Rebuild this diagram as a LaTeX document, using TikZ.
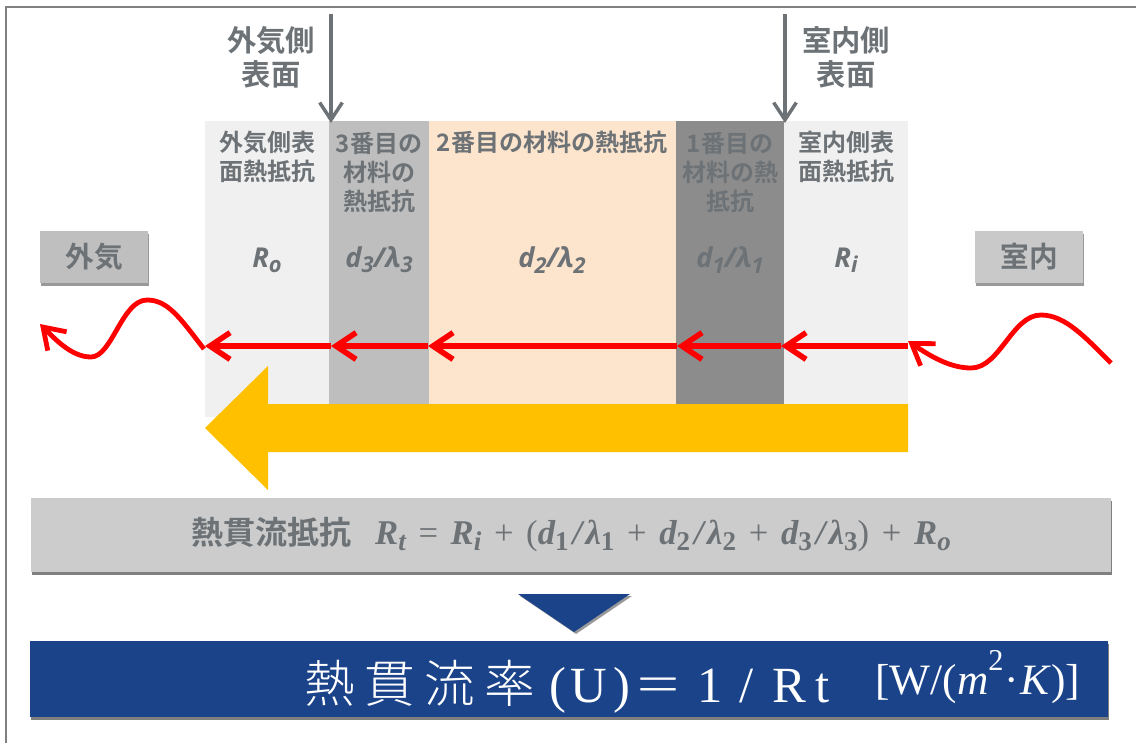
\documentclass[tikz,border=0pt]{standalone}
\usepackage{fontspec}
\usetikzlibrary{arrows.meta,shadows}
\setmainfont{Liberation Serif}
\newfontfamily\cjkbold{Noto Sans CJK JP Bold}
\newfontfamily\cjklight{Noto Sans CJK JP Light}
\newfontfamily\varfont{Open Sans}
\definecolor{txtgray}{HTML}{6D7276}
\definecolor{navy}{HTML}{1A4389}
\definecolor{sunny}{HTML}{FFC000}
\definecolor{peach}{HTML}{FDE4CC}
\newcommand{\vr}[2]{{\varfont\bfseries\itshape #1\raisebox{-0.35ex}{\scalebox{.8}{#2}}}}
\newcommand{\sbs}[1]{\raisebox{-0.35ex}{\scalebox{.78}{#1}}}
\newcommand{\opr}[1]{\hspace{9.5pt}{\mdseries\upshape #1}\hspace{9.5pt}}
\newcommand{\slsh}{\hspace{3pt}/\hspace{2.5pt}}
\tikzset{
  colbox/.style={inner sep=0, minimum height=222pt},
  lbl/.style={text=txtgray, align=center, inner sep=0, font=\cjkbold\fontsize{18}{21.75}\selectfont},
  headlbl/.style={text=txtgray, align=center, inner sep=0, font=\cjkbold\fontsize{22}{25.5}\selectfont},
  varlbl/.style={text=txtgray, inner sep=0, font=\fontsize{20.5}{24}\selectfont},
  airbox/.style={fill=#1, text=txtgray, inner sep=0, minimum width=81pt, minimum height=39pt,
    font=\cjkbold\fontsize{21.5}{25}\selectfont,
    drop shadow={shadow xshift=1pt, shadow yshift=-2pt, opacity=.4, fill=black}},
  wide/.style={inner sep=0, drop shadow={shadow xshift=1pt, shadow yshift=-2pt, opacity=.5, fill=black}},
  grayarrow/.style={draw=txtgray, line width=2.6pt, -{Straight Barb[length=13pt,width=17pt,line width=2.6pt]}},
  heatarrow/.style={draw=red, line width=4.4pt, -{Straight Barb[length=15pt,width=20pt,line width=4.2pt]}},
  wavearrow/.style={draw=red, line width=3.6pt, -{Straight Barb[length=15pt,width=20pt,line width=3.6pt]}}
}
\begin{document}
\begin{tikzpicture}[x=0.75pt, y=-0.75pt]
\useasboundingbox (0,0) rectangle (1136,743);
\coordinate (fa) at (6,743);
\coordinate (fb) at (6,7);
\coordinate (fc) at (1136,7);
\draw[draw=gray, line width=1.1pt] (fa) -- (fb) -- (fc);
\node[colbox, fill=black!6, minimum width=93pt] (col1) at (267,269){};
\node[colbox, fill=black!25.5, minimum width=75pt] (col2) at (379,269){};
\node[colbox, fill=peach, minimum width=185.25pt] (col3) at (552.5,269){};
\node[colbox, fill=black!45, minimum width=81pt] (col4) at (730,269){};
\node[colbox, fill=black!6, minimum width=93pt] (col5) at (846,269){};
\node[lbl] (t1) at (267,157){外気側表\\面熱抵抗};
\node[lbl] (t2) at (379,172){3番目の\\材料の\\熱抵抗};
\node[lbl] (t3) at (552,142){2番目の材料の熱抵抗};
\node[lbl] (t4) at (730,172){1番目の\\材料の熱\\抵抗};
\node[lbl] (t5) at (846,157){室内側表\\面熱抵抗};
\node[varlbl] (v1) at (267,260){\vr{R}{o}};
\node[varlbl] (v2) at (379,260){\vr{d}{3}\vr{/λ}{3}};
\node[varlbl] (v3) at (552,260){\vr{d}{2}\vr{/λ}{2}};
\node[varlbl] (v4) at (730,260){\vr{d}{1}\vr{/λ}{1}};
\node[varlbl] (v5) at (846,260){\vr{R}{i}};
\node[headlbl] (hout) at (271,57){外気側\\表面};
\node[headlbl] (hin) at (846,57){室内側\\表面};
\coordinate (gout) at (331,14);
\coordinate (gouttip) at (331,123);
\coordinate (gin) at (785,14);
\coordinate (gintip) at (785,123);
\draw[grayarrow] (gout) -- (gouttip);
\draw[grayarrow] (gin) -- (gintip);
\node[airbox=black!25] (airout) at (94,257){外気};
\node[airbox=black!21] (airin) at (1029,257){室内};
\fill[sunny] (908,404) -- (268,404) -- (268,366) -- (205,428) -- (268,490) -- (268,452) -- (908,452) -- cycle;
\coordinate (r0) at (908,346);
\coordinate (r1) at (781,346);
\coordinate (r2) at (677,346);
\coordinate (r3) at (428,346);
\coordinate (r4) at (331,346);
\coordinate (r5) at (205,346);
\draw[heatarrow] (r0) -- (r1);
\draw[heatarrow] (r1) -- (r2);
\draw[heatarrow] (r2) -- (r3);
\draw[heatarrow] (r3) -- (r4);
\draw[heatarrow] (r4) -- (r5);
\coordinate (wr) at (1111,363);
\coordinate (wrtip) at (908,341);
\coordinate (wl) at (204,349);
\coordinate (wltip) at (40,324);
\draw[wavearrow] (wr) .. controls (1085,337) and (1065,315) .. (1041,315) .. controls (1012,315) and (1000,368) .. (971,368) .. controls (950,368) and (930,356) .. (wrtip);
\draw[wavearrow] (wl) .. controls (180,318) and (168,300) .. (147,300) .. controls (122,300) and (112,357) .. (91,357) .. controls (72,357) and (56,340) .. (wltip);
\node[wide, fill=black!20, minimum width=810pt, minimum height=55.5pt, text=txtgray] (rtbox) at (571,535){\raisebox{-1.5pt}{\fontsize{26}{30}\selectfont{\cjkbold\fontsize{24}{28}\selectfont 熱貫流抵抗}\hspace{18pt}\bfseries\itshape R\sbs{t}\opr{=}R\sbs{i}\opr{+}{\mdseries\upshape (}d\sbs{\upshape 1}\slsh λ\sbs{\upshape 1}\opr{+}d\sbs{\upshape 2}\slsh λ\sbs{\upshape 2}\opr{+}d\sbs{\upshape 3}\slsh λ\sbs{\upshape 3}{\mdseries\upshape )}\opr{+}R\sbs{o}}};
\fill[navy, drop shadow={shadow xshift=1.5pt, shadow yshift=-1.5pt, opacity=.4, fill=black}] (518,594) -- (630,594) -- (574,632) -- cycle;
\node[wide, fill=navy, minimum width=808.5pt, minimum height=57pt] (ubox) at (569,679){};
\node[anchor=base west, inner sep=0, text=white, font=\fontsize{38}{42}\selectfont] (ulbl) at (304,702){{\cjklight\fontsize{38}{42}\selectfont 熱\hspace{7pt}貫\hspace{7pt}流\hspace{7pt}率}\hspace{11pt}(\hspace{3pt}U\hspace{5pt})\hspace{3pt}{\cjklight\fontsize{36}{36}\selectfont ＝}\hspace{11pt}1\hspace{13pt}/\hspace{14pt}R\hspace{7pt}t\hspace{34pt}\raisebox{6pt}{\fontsize{32.5}{33}\selectfont[W/(\textit{m}\raisebox{1.2ex}{\scalebox{.7}{2}}\hspace{1pt}·\hspace{1pt}\textit{K})]}};
\end{tikzpicture}
\end{document}
